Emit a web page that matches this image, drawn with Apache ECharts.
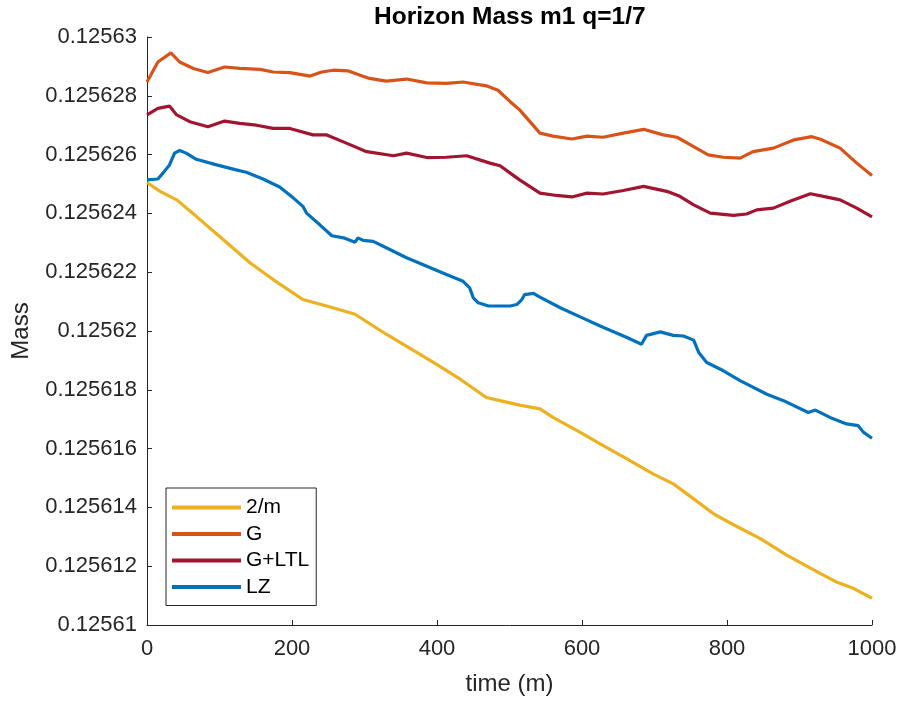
<!DOCTYPE html>
<html>
<head>
<meta charset="utf-8">
<script src="https://cdn.jsdelivr.net/npm/echarts@6/dist/echarts.min.js"></script>
<style>
  html, body { margin: 0; padding: 0; background: #fff; }
  #chart { width: 901px; height: 701px; }
</style>
</head>
<body>
<div id="chart"></div>
<script>
// Horizon mass of m1 (q = 1/7) over time for four schemes

const twoMTime = [0, 18, 41, 68, 105, 142, 174, 215, 254, 287, 330, 395, 432, 468, 487, 514, 542, 560, 597, 625, 662, 698, 726, 754, 781, 809, 846, 883, 929, 952, 975, 1000];
const twoMMass = [0.12562505, 0.12562475, 0.12562446, 0.12562390, 0.12562311, 0.12562232, 0.12562175, 0.12562107, 0.12562081, 0.12562057, 0.12561989, 0.12561893, 0.12561836, 0.12561774, 0.12561763, 0.12561748, 0.12561735, 0.12561706, 0.12561656, 0.12561616, 0.12561565, 0.12561514, 0.12561480, 0.12561429, 0.12561379, 0.12561341, 0.12561294, 0.12561237, 0.12561175, 0.12561145, 0.12561124, 0.12561091];

const gTime = [0, 15, 33, 45, 64, 84, 107, 128, 156, 174, 197, 225, 241, 257, 277, 294, 307, 330, 358, 386, 413, 436, 468, 484, 501, 514, 542, 560, 586, 607, 629, 657, 685, 712, 731, 754, 774, 795, 818, 836, 864, 892, 917, 929, 956, 979, 1000];
const gMass = [0.12562847, 0.12562915, 0.12562946, 0.12562915, 0.12562893, 0.12562879, 0.12562898, 0.12562893, 0.12562890, 0.12562881, 0.12562879, 0.12562867, 0.12562881, 0.12562887, 0.12562885, 0.12562870, 0.12562859, 0.12562850, 0.12562857, 0.12562844, 0.12562842, 0.12562847, 0.12562834, 0.12562819, 0.12562780, 0.12562752, 0.12562673, 0.12562663, 0.12562653, 0.12562663, 0.12562659, 0.12562673, 0.12562686, 0.12562667, 0.12562659, 0.12562627, 0.12562599, 0.12562591, 0.12562588, 0.12562610, 0.12562622, 0.12562650, 0.12562661, 0.12562652, 0.12562622, 0.12562571, 0.12562529];

const gltlTime = [0, 15, 31, 41, 59, 84, 107, 128, 151, 174, 197, 229, 248, 275, 303, 340, 358, 386, 413, 441, 473, 487, 501, 514, 542, 565, 586, 607, 629, 657, 685, 717, 735, 754, 777, 809, 827, 841, 864, 887, 915, 933, 956, 979, 1000];
const gltlMass = [0.12562735, 0.12562757, 0.12562765, 0.12562735, 0.12562712, 0.12562695, 0.12562714, 0.12562706, 0.12562700, 0.12562689, 0.12562689, 0.12562667, 0.12562667, 0.12562639, 0.12562610, 0.12562596, 0.12562605, 0.12562590, 0.12562591, 0.12562596, 0.12562571, 0.12562562, 0.12562537, 0.12562514, 0.12562469, 0.12562461, 0.12562456, 0.12562469, 0.12562466, 0.12562478, 0.12562492, 0.12562475, 0.12562458, 0.12562429, 0.12562401, 0.12562393, 0.12562398, 0.12562412, 0.12562418, 0.12562441, 0.12562467, 0.12562458, 0.12562446, 0.12562418, 0.12562388];

const lzTime = [0, 15, 22, 31, 38, 45, 54, 68, 96, 123, 137, 160, 183, 202, 215, 220, 238, 255, 271, 287, 291, 298, 312, 330, 358, 386, 413, 436, 445, 450, 457, 471, 501, 510, 517, 521, 533, 542, 570, 602, 625, 662, 682, 689, 708, 726, 740, 754, 761, 772, 791, 818, 855, 878, 912, 922, 942, 965, 981, 988, 1000];
const lzMass = [0.12562514, 0.12562517, 0.12562537, 0.12562565, 0.12562605, 0.12562614, 0.12562605, 0.12562584, 0.12562565, 0.12562548, 0.12562540, 0.12562517, 0.12562490, 0.12562452, 0.12562424, 0.12562401, 0.12562362, 0.12562324, 0.12562317, 0.12562302, 0.12562317, 0.12562308, 0.12562305, 0.12562283, 0.12562249, 0.12562220, 0.12562192, 0.12562169, 0.12562147, 0.12562113, 0.12562096, 0.12562085, 0.12562085, 0.12562090, 0.12562107, 0.12562124, 0.12562128, 0.12562115, 0.12562079, 0.12562043, 0.12562017, 0.12561978, 0.12561955, 0.12561985, 0.12561997, 0.12561985, 0.12561983, 0.12561969, 0.12561927, 0.12561893, 0.12561870, 0.12561831, 0.12561785, 0.12561763, 0.12561723, 0.12561731, 0.12561706, 0.12561684, 0.12561678, 0.12561656, 0.12561635];

const seriesNames = ['2/m', 'G', 'G+LTL', 'LZ'];
const seriesColors = ['#EDB120', '#D95319', '#A2142F', '#0072BD'];

const xTicks = { min: 0, max: 1000, step: 200 };
const yTicks = { min: 0.12561, max: 0.12563, step: 0.000002 };

const FONT = '"Liberation Sans", Arial, Helvetica, sans-serif';
const AXIS_COLOR = '#262626';

function pairs(t, m) {
  return t.map((v, i) => [v, m[i]]);
}

const seriesData = [
  pairs(twoMTime, twoMMass),
  pairs(gTime, gMass),
  pairs(gltlTime, gltlMass),
  pairs(lzTime, lzMass)
];

const chart = echarts.init(document.getElementById('chart'), null, { renderer: 'canvas' });

chart.setOption({
  animation: false,
  backgroundColor: '#ffffff',
  title: {
    text: 'Horizon Mass m1 q=1/7',
    left: 374,
    top: 5,
    padding: 0,
    textStyle: { fontFamily: FONT, fontSize: 24.5, fontWeight: 'bold', color: '#000' }
  },
  grid: { left: 147, right: 29, top: 37, bottom: 74, containLabel: false },
  legend: {
    orient: 'vertical',
    left: 166,
    top: 488,
    padding: [9, 7, 8, 6],
    itemGap: 5.5,
    itemWidth: 69,
    itemHeight: 4,
    icon: 'rect',
    borderColor: AXIS_COLOR,
    borderWidth: 1,
    backgroundColor: '#fff',
    textStyle: { fontFamily: FONT, fontSize: 21, color: '#000', lineHeight: 21, padding: [0, 0, 0, 0] },
    data: seriesNames
  },
  xAxis: {
    type: 'value',
    min: xTicks.min,
    max: xTicks.max,
    interval: xTicks.step,
    name: 'time (m)',
    nameLocation: 'middle',
    nameGap: 47,
    nameTextStyle: { fontFamily: FONT, fontSize: 24, color: AXIS_COLOR },
    axisLine: { show: true, lineStyle: { color: AXIS_COLOR, width: 1 } },
    axisTick: { show: true, inside: true, length: 5, lineStyle: { color: AXIS_COLOR } },
    axisLabel: { fontFamily: FONT, fontSize: 22, color: AXIS_COLOR, margin: 13, formatter: v => String(v) },
    splitLine: { show: false }
  },
  yAxis: {
    type: 'value',
    min: yTicks.min,
    max: yTicks.max,
    interval: yTicks.step,
    name: 'Mass',
    nameLocation: 'middle',
    nameGap: 114,
    nameTextStyle: { fontFamily: FONT, fontSize: 24, color: AXIS_COLOR },
    axisLine: { show: true, lineStyle: { color: AXIS_COLOR, width: 1 } },
    axisTick: { show: true, inside: true, length: 5, lineStyle: { color: AXIS_COLOR } },
    axisLabel: {
      fontFamily: FONT, fontSize: 22, color: AXIS_COLOR, margin: 10,
      formatter: v => String(+v.toPrecision(6))
    },
    splitLine: { show: false }
  },
  series: seriesNames.map((name, i) => ({
    name: name,
    type: 'line',
    data: seriesData[i],
    showSymbol: false,
    symbol: 'none',
    smooth: false,
    color: seriesColors[i],
    lineStyle: { color: seriesColors[i], width: 3.2 },
    itemStyle: { color: seriesColors[i] },
    z: 2 + i
  }))
});
</script>
</body>
</html>
